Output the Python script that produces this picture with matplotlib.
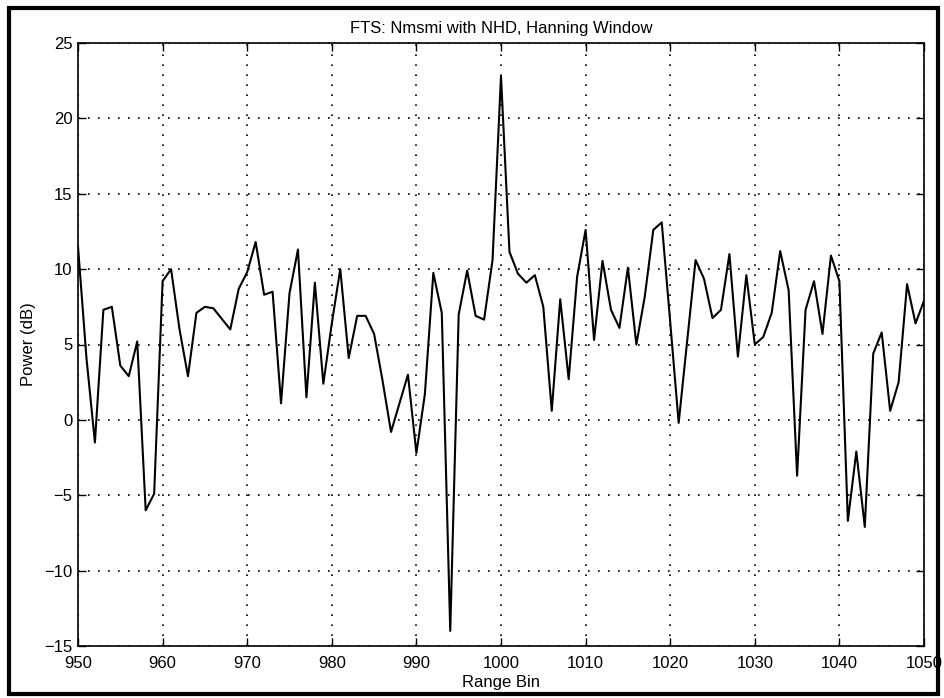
import numpy as np
import matplotlib
matplotlib.use("Agg")
import matplotlib.pyplot as plt
from matplotlib.patches import Rectangle

plt.rcParams['font.family'] = ['Liberation Sans', 'DejaVu Sans']

# Range bins 950..1050 and measured power (dB)
range_bins = np.arange(950, 1051)
power_db = [
    11.5, 4.1, -1.5, 7.3, 7.5, 3.6, 2.9, 5.2, -6.0, -4.9,      # 950-959
    9.2, 10.0, 6.0, 2.9, 7.1, 7.5, 7.4, 6.7, 6.0, 8.7,         # 960-969
    9.8, 11.8, 8.3, 8.5, 1.1, 8.4, 11.3, 1.5, 9.1, 2.4,        # 970-979
    6.4, 10.0, 4.1, 6.9, 6.9, 5.7, 2.6, -0.8, 1.1, 3.0,        # 980-989
    -2.2, 1.7, 9.75, 7.1, -14.0, 7.0, 9.9, 6.9, 6.65, 10.6,    # 990-999
    22.8, 11.15, 9.7, 9.1, 9.6, 7.5, 0.6, 8.0, 2.7, 9.5,       # 1000-1009
    12.6, 5.3, 10.55, 7.3, 6.1, 10.1, 5.0, 8.2, 12.6, 13.1,    # 1010-1019
    6.5, -0.2, 5.2, 10.6, 9.35, 6.75, 7.3, 11.0, 4.2, 9.6,     # 1020-1029
    5.0, 5.5, 7.1, 11.2, 8.6, -3.7, 7.3, 9.2, 5.7, 10.9,       # 1030-1039
    9.2, -6.7, -2.1, -7.1, 4.4, 5.8, 0.6, 2.5, 9.0, 6.4,       # 1040-1049
    7.9,                                                        # 1050
]

x_ticks = np.arange(950, 1051, 10)
y_ticks = np.arange(-15, 26, 5)

fig = plt.figure(figsize=(9.45, 6.98), dpi=100)
ax = fig.add_axes([78 / 945, 52 / 698, (924 - 78) / 945, (646 - 43) / 698])

ax.plot(range_bins, power_db, color='black', linewidth=1.5)

ax.set_xlim(950, 1050)
ax.set_ylim(-15, 25)
ax.set_xticks(x_ticks)
ax.set_yticks(y_ticks)
ax.grid(True, color='black', linestyle=(0, (1, 5)), linewidth=1.2)
ax.tick_params(direction='in', length=6, width=1, top=True, right=True,
               labelsize=12, colors='black')
ax.tick_params(axis='x', pad=7)
ax.tick_params(axis='y', pad=4)
for s in ax.spines.values():
    s.set_linewidth(1.2)

ax.set_title('FTS: Nmsmi with NHD, Hanning Window', fontsize=12, pad=7)
ax.set_xlabel('Range Bin', fontsize=12, labelpad=3)
ax.set_ylabel('Power (dB)', fontsize=12, labelpad=6)

# Frame around the whole figure
fig.patches.append(Rectangle((9 / 945, 4 / 698), (938 - 9) / 945, (690 - 4) / 698,
                             transform=fig.transFigure, fill=False,
                             edgecolor='black', linewidth=3))

fig.savefig('out.png', dpi=100, facecolor='white')
